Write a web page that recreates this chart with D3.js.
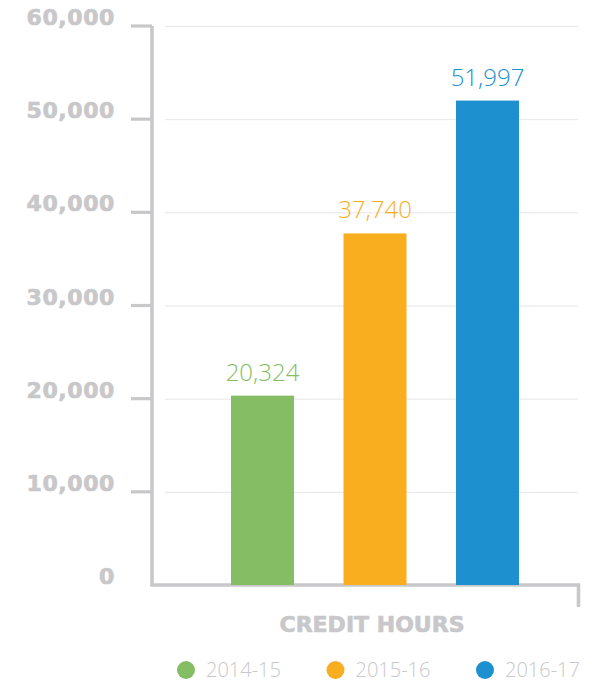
<!DOCTYPE html>
<html>
<head>
<meta charset="utf-8">
<script src="https://cdn.jsdelivr.net/npm/d3@7"></script>
<style>
  html, body { margin: 0; padding: 0; background: #fff; }
  svg { display: block; }
</style>
</head>
<body>
<div id="chart"></div>
<script>
/* ── Data ─────────────────────────────────────────────────────── */
const years  = ["2014-15", "2015-16", "2016-17"];
const hours  = [20324, 37740, 51997];
const colors = ["#84bd63", "#f9ae1f", "#1d90d0"];
const yTicks = [0, 10000, 20000, 30000, 40000, 50000, 60000];
const xTitle = "CREDIT HOURS";

(function () {
  "use strict";

  const W = 592, H = 684;
  const gray = "#c8c8ca";

  const svg = d3.select("#chart").append("svg")
    .attr("width", W).attr("height", H);

  /* ── Scales ─────────────────────────────────────────────────── */
  const y = d3.scaleLinear().domain([0, 60000]).range([585, 26]);
  const x = d3.scaleBand().domain(years).range([206.25, 543.75])
    .paddingInner(0.44).paddingOuter(0.22);
  const legendX = d3.scalePoint().domain(years).range([186, 485]);

  /* ── Gridlines ──────────────────────────────────────────────── */
  svg.append("g").selectAll("line").data(yTicks.filter(t => t > 0)).join("line")
    .attr("x1", 165).attr("x2", 578)
    .attr("y1", d => y(d) + 0.5).attr("y2", d => y(d) + 0.5)
    .attr("stroke", "#e6e6e6").attr("stroke-width", 1);

  /* ── Y axis (left bracket + ticks) ──────────────────────────── */
  const axis = svg.append("g").attr("stroke", gray).attr("fill", "none");
  axis.append("path")
    .attr("d", `M152,${y(60000)} V585 H578.5 V607`)
    .attr("stroke-width", 3.6);
  axis.selectAll("line.tick").data(yTicks.filter(t => t > 0)).join("line")
    .attr("class", "tick")
    .attr("x1", 131).attr("x2", 152)
    .attr("y1", d => y(d)).attr("y2", d => y(d))
    .attr("stroke-width", 3.2);

  // bold labels, thickened slightly with a stroke
  svg.append("g").selectAll("text").data(yTicks).join("text")
    .attr("x", 115)
    .attr("y", d => y(d) - 1)
    .attr("text-anchor", "end")
    .attr("font-family", "'DejaVu Sans', sans-serif")
    .attr("font-weight", "bold")
    .attr("font-size", 22)
    .attr("letter-spacing", 0.6)
    .attr("fill", gray)
    .attr("stroke", gray).attr("stroke-width", 0.7)
    .text(d => d3.format(",")(d));

  /* ── Bars ───────────────────────────────────────────────────── */
  svg.append("g").selectAll("rect").data(years).join("rect")
    .attr("x", d => x(d))
    .attr("y", (d, i) => y(hours[i]))
    .attr("width", x.bandwidth())
    .attr("height", (d, i) => y(0) - y(hours[i]))
    .attr("fill", (d, i) => colors[i]);

  svg.append("g").selectAll("text").data(years).join("text")
    .attr("x", d => x(d) + x.bandwidth() / 2)
    .attr("y", (d, i) => y(hours[i]) - 15)
    .attr("text-anchor", "middle")
    .attr("font-family", "'Open Sans', sans-serif")
    .attr("font-weight", 300)
    .attr("font-size", 24)
    .attr("fill", (d, i) => colors[i])
    .text((d, i) => d3.format(",")(hours[i]));

  /* ── X title ────────────────────────────────────────────────── */
  svg.append("text")
    .attr("x", 372).attr("y", 632)
    .attr("text-anchor", "middle")
    .attr("font-family", "'DejaVu Sans', sans-serif")
    .attr("font-weight", "bold")
    .attr("font-size", 22)
    .attr("fill", gray)
    .attr("stroke", gray).attr("stroke-width", 0.7)
    .text(xTitle);

  /* ── Legend ─────────────────────────────────────────────────── */
  const leg = svg.append("g").selectAll("g").data(years).join("g")
    .attr("transform", d => `translate(${legendX(d)},670)`);
  leg.append("circle").attr("r", 9).attr("fill", (d, i) => colors[i]);
  leg.append("text")
    .attr("x", 20).attr("y", 7)
    .attr("font-family", "'Open Sans', sans-serif")
    .attr("font-weight", 300)
    .attr("font-size", 20)
    .attr("fill", gray)
    .text(d => d);
})();
</script>
</body>
</html>
